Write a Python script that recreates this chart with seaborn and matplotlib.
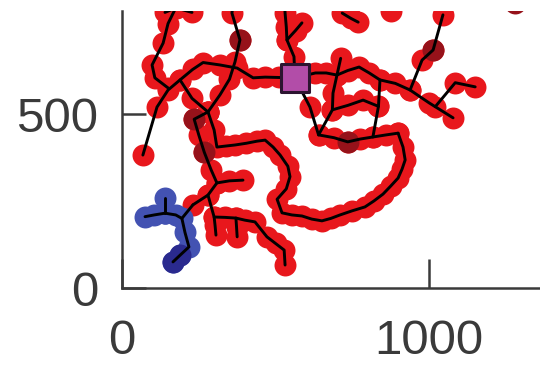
import matplotlib
matplotlib.use("Agg")
import matplotlib.pyplot as plt
import pandas as pd
import seaborn as sns

# ---- network geometry (data units) ----
top_arc = [(140, 792), (175, 805), (228, 792)]
west_loop = [(175, 805), (150, 760), (134, 704), (98, 641), (107, 604), (150, 575)]
spine = [(68, 382), (114, 520), (150, 569), (189, 598), (230, 628), (264, 648),
         (319, 641), (375, 632), (427, 604), (466, 606), (510, 605), (563, 604)]
link = [(189, 598), (228, 545), (280, 506)]
north_drop = [(365, 840), (358, 790), (384, 713), (368, 650), (350, 600), (319, 555), (280, 506)]
box_left = [(280, 506), (235, 485), (250, 440), (268, 390), (290, 340), (309, 302), (350, 308), (394, 310)]
big_arc = [(280, 506), (300, 454), (309, 405), (338, 408), (368, 411), (405, 416), (440, 422),
           (466, 425), (492, 405), (515, 382), (540, 350), (547, 320), (535, 285), (505, 255),
           (521, 216), (553, 210), (586, 207), (618, 198), (651, 193), (680, 200), (710, 210),
           (750, 222), (791, 233), (820, 250), (850, 270), (875, 293), (899, 316), (912, 342),
           (922, 368), (915, 405), (899, 445)]
south_link = [(309, 302), (280, 267), (231, 239)]
south_fork = [(280, 267), (300, 204), (335, 203), (371, 201), (400, 195), (433, 190),
              (472, 147), (500, 128), (528, 109), (531, 66)]
fork_a = [(300, 204), (303, 180), (306, 152)]
fork_b = [(371, 201), (373, 175), (375, 147)]
north_square = [(563, 604), (560, 665), (537, 713), (535, 750), (531, 790), (528, 835)]
north_spur = [(537, 713), (565, 740), (586, 762)]
east = [(563, 604), (630, 618), (665, 618), (700, 612), (735, 625), (772, 635), (805, 618),
        (840, 598), (890, 588), (938, 569), (1000, 532), (1078, 489)]
east_spur = [(700, 612), (712, 660)]
ne_branch = [(938, 569), (977, 655), (1013, 684), (1045, 785)]
ne_fork = [(1020, 521), (1085, 590), (1150, 578)]
center_drop = [(563, 604), (612, 520), (640, 440), (690, 432), (735, 420), (775, 428),
               (817, 434), (860, 440), (899, 445)]
center_mid = [(700, 612), (687, 560), (685, 512), (640, 440)]
center_rung = [(685, 512), (736, 525), (785, 540), (835, 522)]
center_right = [(840, 598), (835, 522), (817, 434)]
top_pair = [(717, 790), (745, 775), (769, 764)]
isolated = [(875, 795)]
dark_red = [(384, 713), (235, 485), (268, 390), (735, 420), (1013, 684), (1280, 819)]

blue_arm = [(75, 205), (105, 210), (140, 215)]
blue_stub = [(140, 215), (140, 260)]
blue_tail = [(140, 215), (175, 210), (195, 200), (205, 160), (218, 118), (190, 95), (166, 75)]
dark_blue = [(190, 95), (166, 75)]
bridge = [(195, 200), (231, 239)]

hub = [(563, 604)]

xticks = [0, 1000]
yticks = [0, 500]

red_paths = [top_arc, west_loop, spine, link, north_drop, box_left, big_arc, south_link,
             south_fork, fork_a, fork_b, north_square, north_spur, east, east_spur,
             ne_branch, ne_fork, center_drop, center_mid, center_rung, center_right, top_pair]
blue_paths = [blue_arm, blue_stub, blue_tail]


def to_frame(paths):
    rows = []
    for i, p in enumerate(paths):
        for x, y in p:
            rows.append((i, x, y))
    return pd.DataFrame(rows, columns=["path", "x", "y"])


edges = to_frame(red_paths + blue_paths + [bridge])
red_nodes = to_frame(red_paths + [isolated])
blue_nodes = to_frame(blue_paths)
dark_red_nodes = pd.DataFrame(dark_red, columns=["x", "y"])
dark_blue_nodes = pd.DataFrame(dark_blue, columns=["x", "y"])
hub_df = pd.DataFrame(hub, columns=["x", "y"])

RED = "#E8171C"
DARK_RED = "#96121A"
BLUE = "#4352B2"
DARK_BLUE = "#2A2A8E"
PURPLE = "#B24DA8"
AXIS = "#3a3a3a"

sns.set_theme(style="white")
plt.rcParams["font.family"] = ["Liberation Sans", "DejaVu Sans"]

fig = plt.figure(figsize=(5.4, 3.71), dpi=100)
ax = fig.add_axes([0.2259, 0.2237, 0.7741, 0.7466])

node_s = 250
sns.scatterplot(data=red_nodes, x="x", y="y", s=node_s, color=RED, linewidth=0,
                ax=ax, zorder=2, legend=False)
sns.scatterplot(data=dark_red_nodes, x="x", y="y", s=node_s, color=DARK_RED, linewidth=0,
                ax=ax, zorder=2.1, legend=False)
sns.scatterplot(data=blue_nodes, x="x", y="y", s=node_s, color=BLUE, linewidth=0,
                ax=ax, zorder=2, legend=False)
sns.scatterplot(data=dark_blue_nodes, x="x", y="y", s=node_s, color=DARK_BLUE, linewidth=0,
                ax=ax, zorder=2.1, legend=False)
sns.lineplot(data=edges, x="x", y="y", units="path", estimator=None, sort=False,
             color="black", linewidth=2.1, ax=ax, zorder=3, legend=False)
sns.scatterplot(data=hub_df, x="x", y="y", marker="s", s=400, color=PURPLE,
                edgecolor="#2c1430", linewidth=2.2, ax=ax, zorder=4, legend=False)

ax.set_xlim(0, 1361)
ax.set_ylim(0, 796)
ax.set_xticks(xticks)
ax.set_yticks(yticks)
ax.set_xticklabels([str(v) for v in xticks])
ax.set_yticklabels([str(v) for v in yticks])
ax.set_xlabel("")
ax.set_ylabel("")

for side in ["top", "right"]:
    ax.spines[side].set_visible(False)
for side in ["left", "bottom"]:
    ax.spines[side].set_color(AXIS)
    ax.spines[side].set_linewidth(1.8)

ax.tick_params(axis="x", bottom=True, direction="in", length=21, width=1.8, color=AXIS,
               labelsize=35.5, labelcolor=AXIS, pad=22)
ax.tick_params(axis="y", left=True, direction="in", length=17, width=1.8, color=AXIS,
               labelsize=35.5, labelcolor=AXIS, pad=17)

fig.savefig("out.png", dpi=100)
